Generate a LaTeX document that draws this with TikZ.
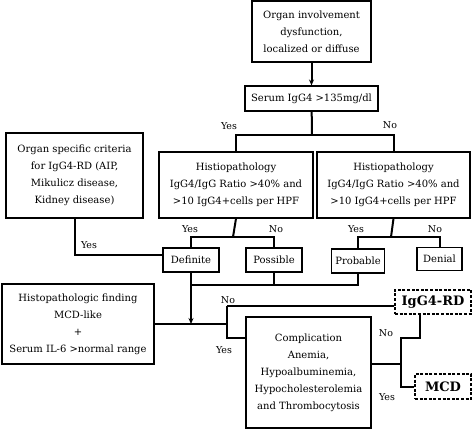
\documentclass[tikz,border=0pt]{standalone}
\usepackage{fontspec}
\setmainfont{DejaVu Serif}
\usetikzlibrary{arrows.meta}

\begin{document}
\begin{tikzpicture}[x=1pt,y=-1pt,
		box/.style={draw,line width=1.1pt,align=center,inner sep=0pt,font=\fontsize{10}{17}\selectfont},
		result/.style={draw,dash pattern=on 3pt off 1.6pt,line width=1.5pt,inner sep=0pt,font=\fontsize{13}{14}\selectfont\bfseries},
		lab/.style={inner sep=0pt,font=\fontsize{9.5}{10}\selectfont},
		line/.style={line width=2pt},
		arr/.style={line width=2pt,-{Stealth[length=6pt,width=5pt]}}]
	\useasboundingbox (0,0) rectangle (473,429);
	% boxes
	\node[box,minimum width=119pt,minimum height=61pt] (organ) at (311.5,31.5){Organ involvement\\dysfunction,\\localized or diffuse};
	\node[box,minimum width=133pt,minimum height=25pt] (serum) at (311.5,98.5){Serum IgG4 >135mg/dl};
	\node[box,minimum width=137pt,minimum height=85pt] (crit) at (74.5,175.5){Organ specific criteria\\for IgG4-RD (AIP,\\Mikulicz disease,\\Kidney disease)};
	\node[box,minimum width=154pt,minimum height=66pt] (histA) at (236,185){Histiopathology\\IgG4/IgG Ratio >40\% and\\>10 IgG4+cells per HPF};
	\node[box,minimum width=153pt,minimum height=66pt] (histB) at (393.5,185){Histiopathology\\IgG4/IgG Ratio >40\% and\\>10 IgG4+cells per HPF};
	\node[box,minimum width=56pt,minimum height=24pt] (definite) at (191,260){Definite};
	\node[box,minimum width=56pt,minimum height=24pt] (possible) at (274,260){Possible};
	\node[box,minimum width=53pt,minimum height=24pt] (probable) at (358,261){Probable};
	\node[box,minimum width=45pt,minimum height=23pt] (denial) at (439.5,259){Denial};
	\node[box,minimum width=152pt,minimum height=80pt] (mcdlike) at (78,324){Histopathologic finding\\MCD-like\\+\\Serum IL-6 >normal range};
	\node[box,minimum width=125pt,minimum height=111pt] (compl) at (308.5,372.5){Complication\\Anemia,\\Hypoalbuminemia,\\Hypocholesterolemia\\and Thrombocytosis};
	\node[result,minimum width=76pt,minimum height=24pt] (igg4rd) at (433,302){IgG4-RD};
	\node[result,minimum width=56pt,minimum height=25pt] (mcd) at (443,386.5){MCD};

	% branch points
	\coordinate (s1) at (312,135);
	\coordinate (jA) at (233,237);
	\coordinate (jB) at (391,237);
	\coordinate (jC) at (191,285);
	\coordinate (jH) at (227,306);
	\coordinate (jI) at (227,338);
	\coordinate (jD) at (401,364);
	\coordinate (jE) at (401,338);
	\coordinate (jF) at (420,338);

	% connectors
	\draw[arr] (organ) -- (serum);
	\draw[line] (serum) -- (s1);
	\draw[line] (histA.north) |- (s1) -| (histB.north);
	\draw[line] (histA.south) -- (jA);
	\draw[line] (definite.north) |- (jA) -| (possible.north);
	\draw[line] (histB.south) -- (jB);
	\draw[line] (probable.north) |- (jB) -| (denial.north);
	\draw[line] (crit.south) |- ([yshift=5pt]definite.west);
	\draw[line] (definite.south) -- (jC);
	\draw[line] (possible.south) -- (possible.south |- jC);
	\draw[line] (probable.south) |- (jC);
	\draw[arr] (jC) -- (jC |- mcdlike.east);
	\draw[line] (mcdlike.east) -- (mcdlike.east -| jH);
	\draw[line width=1.4pt] (igg4rd.west |- jH) -- (jH);
	\draw[line] (jH) -- (jI) -- (jI -| compl.west);
	\draw[line] (jD -| compl.east) -- (jD);
	\draw[line] (mcd.west) -| (jE) -- (jF) -- (jF |- igg4rd.south);

	% labels
	\node[lab] (y1) at (229,126){Yes};
	\node[lab] (n1) at (390,125){No};
	\node[lab] (y2) at (190,229){Yes};
	\node[lab] (n2) at (276,229){No};
	\node[lab] (y3) at (356,229){Yes};
	\node[lab] (n3) at (435,229){No};
	\node[lab] (y4) at (89,245){Yes};
	\node[lab] (n4) at (228,300){No};
	\node[lab] (y5) at (224,350){Yes};
	\node[lab] (n5) at (386,333){No};
	\node[lab] (y6) at (387,397){Yes};
\end{tikzpicture}
\end{document}
